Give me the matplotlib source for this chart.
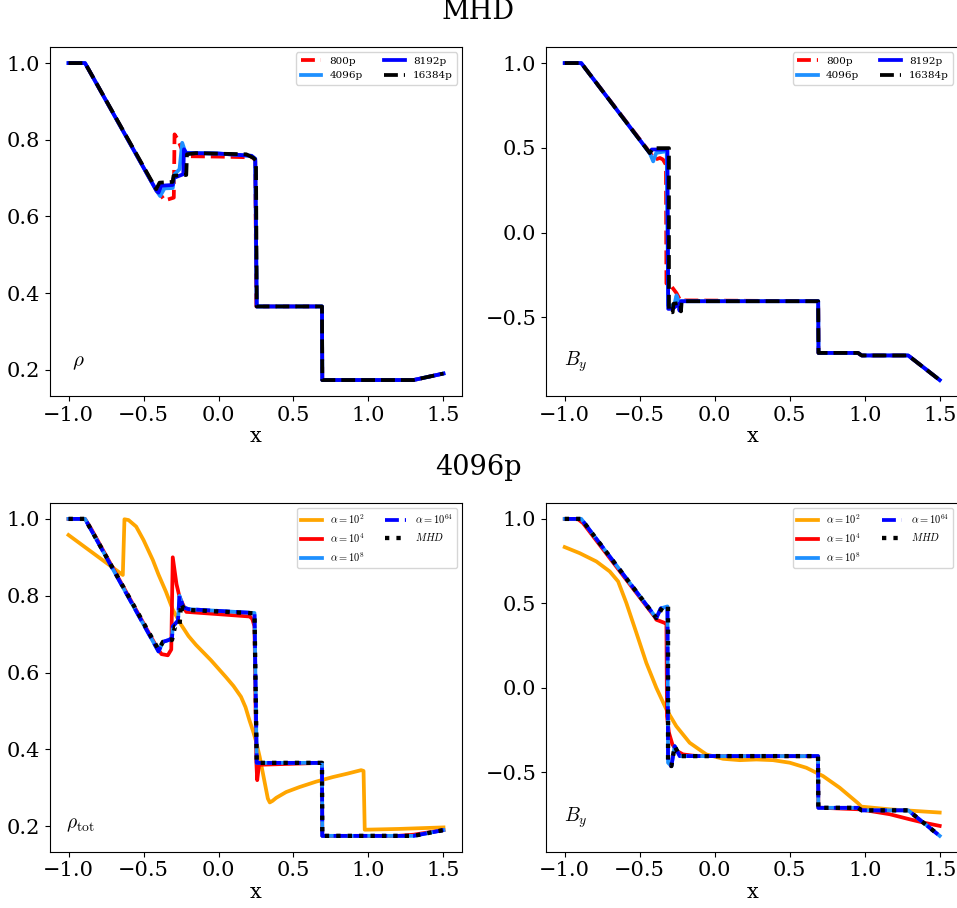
import matplotlib
matplotlib.use("Agg")
import matplotlib.pyplot as plt
from matplotlib.ticker import MultipleLocator

plt.rcParams['font.family'] = 'DejaVu Serif'
plt.rcParams['mathtext.fontset'] = 'cm'

# --- MHD resolution study: density ---
rho_800_x = [-1.0, -0.89, -0.41, -0.38, -0.36, -0.33, -0.298, -0.293, -0.27, -0.24, -0.22, 0.0, 0.23, 0.245, 0.252, 0.69, 0.692, 1.30, 1.50]
rho_800_y = [1.0, 1.0, 0.665, 0.653, 0.642, 0.645, 0.649, 0.814, 0.80, 0.77, 0.757, 0.756, 0.754, 0.745, 0.365, 0.365, 0.173, 0.173, 0.19]
rho_4096_x = [-1.0, -0.89, -0.415, -0.389, -0.36, -0.305, -0.293, -0.26, -0.242, -0.22, 0.0, 0.22, 0.245, 0.255, 0.69, 0.692, 1.30, 1.50]
rho_4096_y = [1.0, 1.0, 0.668, 0.653, 0.673, 0.674, 0.71, 0.723, 0.792, 0.766, 0.764, 0.758, 0.75, 0.365, 0.365, 0.173, 0.173, 0.19]
rho_8192_x = [-1.0, -0.89, -0.415, -0.40, -0.38, -0.305, -0.30, -0.235, -0.23, -0.215, 0.0, 0.22, 0.245, 0.255, 0.69, 0.692, 1.30, 1.50]
rho_8192_y = [1.0, 1.0, 0.668, 0.662, 0.68, 0.682, 0.70, 0.71, 0.775, 0.765, 0.764, 0.758, 0.75, 0.365, 0.365, 0.173, 0.173, 0.19]
rho_16384_x = [-1.0, -0.89, -0.415, -0.393, -0.305, -0.30, -0.215, -0.21, -0.15, 0.185, 0.235, 0.25, 0.255, 0.69, 0.692, 1.30, 1.50]
rho_16384_y = [1.0, 1.0, 0.671, 0.688, 0.69, 0.706, 0.708, 0.762, 0.765, 0.762, 0.752, 0.745, 0.365, 0.365, 0.173, 0.173, 0.19]

# --- MHD resolution study: B_y ---
by_800_x = [-1.0, -0.89, -0.43, -0.40, -0.365, -0.345, -0.325, -0.322, -0.289, -0.255, -0.23, 0.69, 0.692, 0.955, 0.98, 1.29, 1.50]
by_800_y = [1.0, 1.0, 0.47, 0.43, 0.44, 0.431, 0.40, -0.30, -0.317, -0.357, -0.40, -0.405, -0.71, -0.71, -0.725, -0.725, -0.87]
by_4096_x = [-1.0, -0.89, -0.433, -0.41, -0.39, -0.32, -0.31, -0.27, -0.255, -0.24, 0.69, 0.692, 0.955, 0.98, 1.29, 1.50]
by_4096_y = [1.0, 1.0, 0.469, 0.42, 0.47, 0.48, -0.43, -0.43, -0.37, -0.405, -0.405, -0.71, -0.71, -0.725, -0.725, -0.87]
by_8192_x = [-1.0, -0.89, -0.433, -0.42, -0.315, -0.31, -0.28, -0.24, -0.235, -0.225, 0.69, 0.692, 0.955, 0.98, 1.29, 1.50]
by_8192_y = [1.0, 1.0, 0.469, 0.49, 0.49, -0.45, -0.45, -0.42, -0.46, -0.405, -0.405, -0.71, -0.71, -0.725, -0.725, -0.87]
by_16384_x = [-1.0, -0.89, -0.433, -0.411, -0.305, -0.305, -0.28, -0.275, -0.23, -0.225, -0.22, 0.69, 0.692, 0.955, 0.98, 1.29, 1.50]
by_16384_y = [1.0, 1.0, 0.469, 0.498, 0.498, -0.47, -0.47, -0.42, -0.415, -0.465, -0.405, -0.405, -0.71, -0.71, -0.725, -0.725, -0.87]

# --- alpha study at 4096p: total density ---
rt_a2_x = [-1.0, -0.638, -0.627, -0.60, -0.549, -0.50, -0.438, -0.40, -0.35, -0.304, -0.25, -0.20, -0.15, -0.10, -0.05, 0.0, 0.05,
           0.10, 0.15, 0.18, 0.207, 0.23, 0.251, 0.275, 0.296, 0.315, 0.329, 0.342, 0.36, 0.385, 0.451, 0.54, 0.65, 0.762, 0.86,
           0.951, 0.967, 0.975, 1.20, 1.50]
rt_a2_y = [0.958, 0.854, 0.999, 0.997, 0.98, 0.945, 0.893, 0.855, 0.81, 0.763, 0.725, 0.695, 0.672, 0.652, 0.632, 0.61, 0.588,
           0.565, 0.537, 0.51, 0.475, 0.448, 0.42, 0.38, 0.338, 0.30, 0.272, 0.262, 0.266, 0.274, 0.289, 0.302, 0.316, 0.328, 0.337,
           0.346, 0.344, 0.191, 0.193, 0.197]
rt_a4_x = [-1.0, -0.89, -0.85, -0.41, -0.38, -0.338, -0.315, -0.305, -0.28, -0.26, -0.215, 0.0, 0.207, 0.225, 0.24, 0.252, 0.258, 0.27, 0.69, 0.692, 1.20, 1.30, 1.50]
rt_a4_y = [1.0, 1.0, 0.975, 0.665, 0.648, 0.645, 0.66, 0.90, 0.83, 0.797, 0.758, 0.752, 0.746, 0.74, 0.72, 0.37, 0.32, 0.36, 0.365, 0.175, 0.175, 0.178, 0.19]
rt_a8_x = [-1.0, -0.89, -0.40, -0.37, -0.33, -0.31, -0.305, -0.27, -0.26, -0.235, -0.20, 0.24, 0.255, 0.69, 0.692, 1.30, 1.50]
rt_a8_y = [1.0, 1.0, 0.655, 0.68, 0.685, 0.69, 0.72, 0.735, 0.80, 0.77, 0.765, 0.755, 0.365, 0.365, 0.175, 0.175, 0.19]
rt_a64_x = [-1.0, -0.89, -0.40, -0.37, -0.33, -0.31, -0.305, -0.27, -0.26, -0.235, -0.20, 0.24, 0.255, 0.69, 0.692, 1.30, 1.50]
rt_a64_y = [1.0, 1.0, 0.655, 0.68, 0.685, 0.69, 0.72, 0.735, 0.80, 0.77, 0.765, 0.755, 0.365, 0.365, 0.175, 0.175, 0.19]
rt_mhd_x = [-1.0, -0.89, -0.40, -0.37, -0.31, -0.29, -0.26, -0.25, -0.23, -0.20, 0.24, 0.255, 0.69, 0.692, 1.30, 1.50]
rt_mhd_y = [1.0, 1.0, 0.66, 0.68, 0.685, 0.72, 0.72, 0.78, 0.765, 0.763, 0.754, 0.365, 0.365, 0.175, 0.175, 0.19]

# --- alpha study at 4096p: B_y ---
b4_a2_x = [-1.0, -0.9, -0.789, -0.70, -0.644, -0.589, -0.522, -0.456, -0.389, -0.322, -0.256, -0.167, -0.056, 0.056, 0.167, 0.278,
           0.389, 0.50, 0.611, 0.722, 0.833, 0.956, 0.978, 1.167, 1.50]
b4_a2_y = [0.833, 0.797, 0.748, 0.689, 0.63, 0.502, 0.325, 0.148, 0.0, -0.128, -0.227, -0.325, -0.394, -0.42, -0.428, -0.424,
           -0.428, -0.443, -0.473, -0.522, -0.591, -0.683, -0.703, -0.719, -0.738]
b4_a4_x = [-1.0, -0.911, -0.878, -0.40, -0.389, -0.333, -0.322, -0.318, -0.305, -0.282, -0.251, -0.211, -0.122, 0.689, 0.691,
           0.967, 1.167, 1.30, 1.389, 1.50]
b4_a4_y = [1.0, 0.998, 0.975, 0.42, 0.403, 0.384, 0.384, -0.168, -0.266, -0.335, -0.374, -0.394, -0.404, -0.405, -0.709,
           -0.719, -0.748, -0.778, -0.797, -0.817]
b4_a8_x = [-1.0, -0.89, -0.389, -0.36, -0.315, -0.311, -0.289, -0.267, -0.233, 0.689, 0.691, 0.955, 0.98, 1.29, 1.50]
b4_a8_y = [1.0, 1.0, 0.413, 0.47, 0.482, -0.443, -0.463, -0.345, -0.404, -0.404, -0.71, -0.71, -0.725, -0.725, -0.876]
b4_a64_x = [-1.0, -0.89, -0.389, -0.36, -0.315, -0.311, -0.289, -0.267, -0.233, 0.689, 0.691, 0.955, 0.98, 1.29, 1.50]
b4_a64_y = [1.0, 1.0, 0.413, 0.47, 0.482, -0.443, -0.463, -0.345, -0.404, -0.404, -0.71, -0.71, -0.725, -0.725, -0.876]
b4_mhd_x = [-1.0, -0.89, -0.389, -0.344, -0.311, -0.311, -0.289, -0.267, -0.233, 0.689, 0.691, 0.955, 0.98, 1.29, 1.50]
b4_mhd_y = [1.0, 1.0, 0.413, 0.482, 0.482, -0.443, -0.463, -0.345, -0.404, -0.404, -0.71, -0.71, -0.725, -0.725, -0.876]

res_labels = ['800p', '4096p', '8192p', '16384p']
alpha_labels = [r'$\alpha=10^2$', r'$\alpha=10^4$', r'$\alpha=10^8$', r'$\alpha=10^{64}$', r'$MHD$']

fig = plt.figure(figsize=(9.57, 9.08), dpi=100)
w, h = 0.431, 0.384
ax1 = fig.add_axes([0.052, 0.564, w, h])
ax2 = fig.add_axes([0.5705, 0.564, w, h])
ax3 = fig.add_axes([0.052, 0.062, w, h])
ax4 = fig.add_axes([0.5705, 0.062, w, h])

lw = 2.7

# resolution panels
for ax, curves in [(ax1, [(rho_800_x, rho_800_y), (rho_4096_x, rho_4096_y), (rho_8192_x, rho_8192_y), (rho_16384_x, rho_16384_y)]),
                   (ax2, [(by_800_x, by_800_y), (by_4096_x, by_4096_y), (by_8192_x, by_8192_y), (by_16384_x, by_16384_y)])]:
    ax.plot(*curves[0], color='red', ls='--', lw=lw, label=res_labels[0])
    ax.plot(*curves[1], color='dodgerblue', ls='-', lw=lw, label=res_labels[1])
    ax.plot(*curves[2], color='blue', ls='-', lw=lw, label=res_labels[2])
    ax.plot(*curves[3], color='black', ls='--', lw=lw, label=res_labels[3])
    ax.legend(loc='upper right', ncol=2, fontsize=7.5)

# alpha panels
for ax, curves in [(ax3, [(rt_a2_x, rt_a2_y), (rt_a4_x, rt_a4_y), (rt_a8_x, rt_a8_y), (rt_a64_x, rt_a64_y), (rt_mhd_x, rt_mhd_y)]),
                   (ax4, [(b4_a2_x, b4_a2_y), (b4_a4_x, b4_a4_y), (b4_a8_x, b4_a8_y), (b4_a64_x, b4_a64_y), (b4_mhd_x, b4_mhd_y)])]:
    ax.plot(*curves[0], color='orange', ls='-', lw=lw, label=alpha_labels[0])
    ax.plot(*curves[1], color='red', ls='-', lw=lw, label=alpha_labels[1])
    ax.plot(*curves[2], color='dodgerblue', ls='-', lw=lw, label=alpha_labels[2])
    ax.plot(*curves[3], color='blue', ls='--', lw=lw, label=alpha_labels[3])
    ax.plot(*curves[4], color='black', ls=':', lw=lw + 0.4, label=alpha_labels[4])
    ax.legend(loc='upper right', ncol=2, fontsize=7.5)

ax1.text(0.055, 0.097, r'$\rho$', transform=ax1.transAxes, fontsize=15, va='center')
ax2.text(0.043, 0.097, r'$B_y$', transform=ax2.transAxes, fontsize=14, va='center')
ax3.text(0.04, 0.078, r'$\rho_{\rm tot}$', transform=ax3.transAxes, fontsize=14, va='center')
ax4.text(0.043, 0.097, r'$B_y$', transform=ax4.transAxes, fontsize=14, va='center')

for ax in [ax1, ax2, ax3, ax4]:
    ax.xaxis.set_major_locator(MultipleLocator(0.5))
    ax.set_xlabel('x', fontsize=15, labelpad=2)
    ax.tick_params(labelsize=15)

fig.text(0.5, 0.987, 'MHD', ha='center', va='center', fontsize=19.5)
fig.text(0.5, 0.485, '4096p', ha='center', va='center', fontsize=19.5)

plt.savefig('out.png', dpi=100)
